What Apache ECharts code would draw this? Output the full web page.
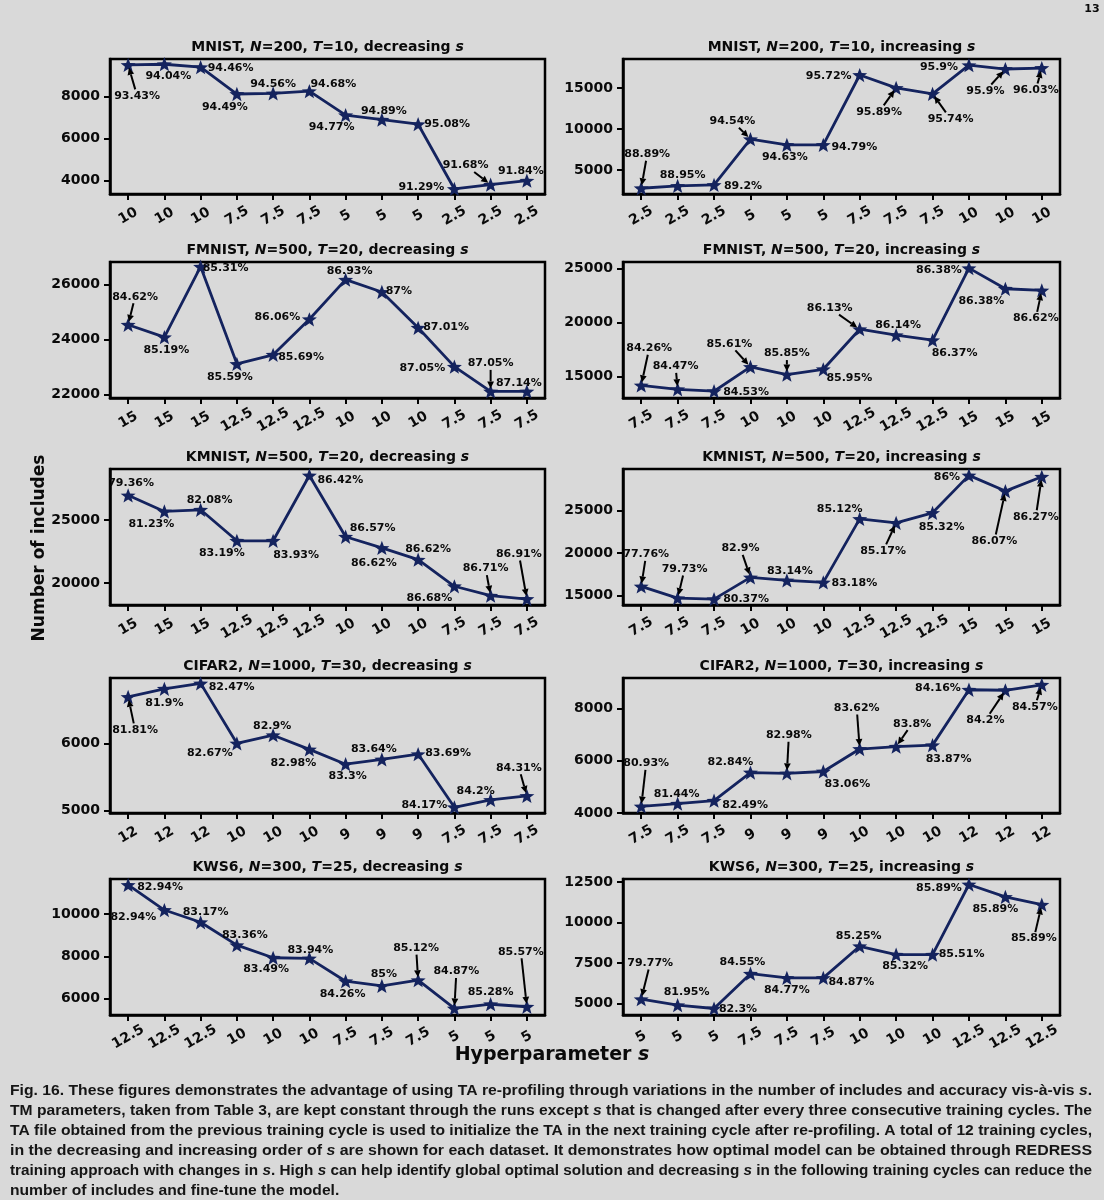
<!DOCTYPE html>
<html>
<head>
<meta charset="utf-8">
<script src="https://cdn.jsdelivr.net/npm/echarts@6/dist/echarts.min.js"></script>
<style>
html,body{margin:0;padding:0;background:#d9d9d9;}
#c{width:1104px;height:1200px;}
</style>
</head>
<body>
<div id="c"></div>
<script>
// ---------------- DATA ----------------
const sMnistDec = ['10','10','10','7.5','7.5','7.5','5','5','5','2.5','2.5','2.5'];
const sMnistInc = ['2.5','2.5','2.5','5','5','5','7.5','7.5','7.5','10','10','10'];
const sFmnistDec = ['15','15','15','12.5','12.5','12.5','10','10','10','7.5','7.5','7.5'];
const sFmnistInc = ['7.5','7.5','7.5','10','10','10','12.5','12.5','12.5','15','15','15'];
const sKmnistDec = ['15','15','15','12.5','12.5','12.5','10','10','10','7.5','7.5','7.5'];
const sKmnistInc = ['7.5','7.5','7.5','10','10','10','12.5','12.5','12.5','15','15','15'];
const sCifarDec = ['12','12','12','10','10','10','9','9','9','7.5','7.5','7.5'];
const sCifarInc = ['7.5','7.5','7.5','9','9','9','10','10','10','12','12','12'];
const sKwsDec = ['12.5','12.5','12.5','10','10','10','7.5','7.5','7.5','5','5','5'];
const sKwsInc = ['5','5','5','7.5','7.5','7.5','10','10','10','12.5','12.5','12.5'];

const incMnistDec = [9520, 9550, 9410, 8130, 8160, 8270, 7120, 6910, 6690, 3600, 3810, 4000];
const incMnistInc = [2780, 3070, 3190, 8750, 8070, 8070, 16570, 15000, 14280, 17780, 17300, 17420];
const incFmnistDec = [24540, 24090, 26650, 23120, 23450, 24740, 26180, 25730, 24430, 23020, 22120, 22120];
const incFmnistInc = [14160, 13790, 13610, 15870, 15160, 15650, 19380, 18820, 18360, 25060, 23140, 22990];
const incKmnistDec = [26940, 25670, 25800, 23350, 23350, 28510, 23670, 22790, 21860, 19760, 19020, 18750];
const incKmnistInc = [16100, 14730, 14610, 17160, 16800, 16570, 24020, 23550, 24730, 29120, 27280, 28960];
const incCifarDec = [6690, 6810, 6890, 6000, 6120, 5910, 5690, 5760, 5840, 5050, 5160, 5220];
const incCifarInc = [4250, 4360, 4470, 5550, 5520, 5590, 6450, 6540, 6600, 8720, 8700, 8910];
const incKwsDec = [11380, 10190, 9610, 8530, 7930, 7900, 6820, 6600, 6870, 5530, 5730, 5610];
const incKwsInc = [5270, 4900, 4690, 6840, 6580, 6580, 8530, 8010, 8010, 12340, 11580, 11100];

const accMnistDec = ['93.43%','94.04%','94.46%','94.49%','94.56%','94.68%','94.77%','94.89%','95.08%','91.29%','91.68%','91.84%'];
const accMnistInc = ['88.89%','88.95%','89.2%','94.54%','94.63%','94.79%','95.72%','95.89%','95.74%','95.9%','95.9%','96.03%'];
const accFmnistDec = ['84.62%','85.19%','85.31%','85.59%','85.69%','86.06%','86.93%','87%','87.01%','87.05%','87.05%','87.14%'];
const accFmnistInc = ['84.26%','84.47%','84.53%','85.61%','85.85%','85.95%','86.13%','86.14%','86.37%','86.38%','86.38%','86.62%'];
const accKmnistDec = ['79.36%','81.23%','82.08%','83.19%','83.93%','86.42%','86.57%','86.62%','86.62%','86.68%','86.71%','86.91%'];
const accKmnistInc = ['77.76%','79.73%','80.37%','82.9%','83.14%','83.18%','85.12%','85.17%','85.32%','86%','86.07%','86.27%'];
const accCifarDec = ['81.81%','81.9%','82.47%','82.67%','82.9%','82.98%','83.3%','83.64%','83.69%','84.17%','84.2%','84.31%'];
const accCifarInc = ['80.93%','81.44%','82.49%','82.84%','82.98%','83.06%','83.62%','83.8%','83.87%','84.16%','84.2%','84.57%'];
const accKwsDec = ['82.94%','82.94%','83.17%','83.36%','83.49%','83.94%','84.26%','85%','85.12%','84.87%','85.28%','85.57%'];
const accKwsInc = ['79.77%','81.95%','82.3%','84.55%','84.77%','84.87%','85.25%','85.32%','85.51%','85.89%','85.89%','85.89%'];

const ticksMnistDec = [4000, 6000, 8000];
const ticksMnistInc = [5000, 10000, 15000];
const ticksFmnistDec = [22000, 24000, 26000];
const ticksFmnistInc = [15000, 20000, 25000];
const ticksKmnistDec = [20000, 25000];
const ticksKmnistInc = [15000, 20000, 25000];
const ticksCifarDec = [5000, 6000];
const ticksCifarInc = [4000, 6000, 8000];
const ticksKwsDec = [6000, 8000, 10000];
const ticksKwsInc = [5000, 7500, 10000, 12500];

// ---------------- STYLE / LAYOUT ----------------
// annotation placement per point: [dx, dy, arrow]
const offMnistDec = [[9,31,1],[4,12,0],[30,1,0],[-12,13,0],[0,-9,0],[24,-7,0],[-14,12,0],[2,-8,0],[29,0,0],[-33,-2,0],[-25,-19,1],[-6,-9,0]];
const offMnistInc = [[6,-34,1],[5,-11,0],[29,1,0],[-18,-18,1],[-2,12,0],[31,2,0],[-31,1,0],[-17,24,1],[18,25,1],[-30,2,0],[-20,22,1],[-6,22,1]];
const offFmnistDec = [[7,-28,1],[2,13,0],[25,1,0],[-7,13,0],[28,2,0],[-32,-2,0],[4,-8,0],[17,-1,0],[28,-1,0],[-32,2,0],[0,-28,1],[-8,-8,0]];
const offFmnistInc = [[8,-37,1],[-2,-23,1],[32,1,0],[-21,-23,1],[0,-21,1],[26,9,0],[-30,-21,1],[2,-10,0],[22,13,0],[-30,2,0],[-24,12,0],[-6,28,1]];
const offKmnistDec = [[3,-12,0],[-13,13,0],[9,-10,0],[-15,12,0],[23,14,0],[31,5,0],[27,-9,0],[-8,15,0],[10,-11,0],[-25,12,0],[-5,-27,1],[-8,-45,1]];
const offKmnistInc = [[5,-32,1],[7,-29,1],[32,0,0],[-10,-29,1],[3,-9,0],[31,1,0],[-20,-10,0],[-13,28,1],[9,14,0],[-22,2,0],[-11,50,1],[-6,40,1]];
const offCifarDec = [[7,33,1],[0,14,0],[31,4,0],[-27,10,0],[-1,-9,0],[-16,14,0],[2,12,0],[-8,-10,0],[30,-1,0],[-30,-2,0],[-15,-9,0],[-8,-28,1]];
const offCifarInc = [[5,-43,1],[-1,-9,0],[31,4,0],[-20,-10,0],[2,-38,1],[24,13,0],[-3,-41,1],[16,-23,1],[16,14,0],[-31,-2,0],[-20,30,1],[-7,22,1]];
const offKwsDec = [[32,2,0],[-31,7,0],[5,-10,0],[8,-10,0],[-7,11,0],[1,-8,0],[-3,13,0],[2,-12,0],[-2,-32,1],[2,-37,1],[0,-12,0],[-6,-55,1]];
const offKwsInc = [[9,-36,1],[9,-13,0],[24,1,0],[-8,-12,0],[0,12,0],[28,4,0],[-1,-10,0],[9,11,0],[29,-1,0],[-30,4,0],[-10,12,0],[-8,34,1]];

const FONT = '"DejaVu Sans", sans-serif';
const NAVY = '#14235e';
const INK = '#0a0a0a';
const BG = '#d9d9d9';
const colLeft = [110, 623];
const colWidth = [435, 437];
const rowTop = [59, 262, 469, 678, 879];
const rowHeight = [135, 136, 136, 135, 136];

const panels = [
  {t:'MNIST, {i|N}=200, {i|T}=10, decreasing {i|s}', s:sMnistDec, v:incMnistDec, a:accMnistDec, o:offMnistDec, k:ticksMnistDec, r:[3360, 9800], row:0, col:0},
  {t:'MNIST, {i|N}=200, {i|T}=10, increasing {i|s}', s:sMnistInc, v:incMnistInc, a:accMnistInc, o:offMnistInc, k:ticksMnistInc, r:[2080, 18520], row:0, col:1},
  {t:'FMNIST, {i|N}=500, {i|T}=20, decreasing {i|s}', s:sFmnistDec, v:incFmnistDec, a:accFmnistDec, o:offFmnistDec, k:ticksFmnistDec, r:[21880, 26820], row:1, col:0},
  {t:'FMNIST, {i|N}=500, {i|T}=20, increasing {i|s}', s:sFmnistInc, v:incFmnistInc, a:accFmnistInc, o:offFmnistInc, k:ticksFmnistInc, r:[12980, 25630], row:1, col:1},
  {t:'KMNIST, {i|N}=500, {i|T}=20, decreasing {i|s}', s:sKmnistDec, v:incKmnistDec, a:accKmnistDec, o:offKmnistDec, k:ticksKmnistDec, r:[18280, 29020], row:2, col:0},
  {t:'KMNIST, {i|N}=500, {i|T}=20, increasing {i|s}', s:sKmnistInc, v:incKmnistInc, a:accKmnistInc, o:offKmnistInc, k:ticksKmnistInc, r:[13920, 29870], row:2, col:1},
  {t:'CIFAR2, {i|N}=1000, {i|T}=30, decreasing {i|s}', s:sCifarDec, v:incCifarDec, a:accCifarDec, o:offCifarDec, k:ticksCifarDec, r:[4965, 6970], row:3, col:0},
  {t:'CIFAR2, {i|N}=1000, {i|T}=30, increasing {i|s}', s:sCifarInc, v:incCifarInc, a:accCifarInc, o:offCifarInc, k:ticksCifarInc, r:[4000, 9170], row:3, col:1},
  {t:'KWS6, {i|N}=300, {i|T}=25, decreasing {i|s}', s:sKwsDec, v:incKwsDec, a:accKwsDec, o:offKwsDec, k:ticksKwsDec, r:[5220, 11660], row:4, col:0},
  {t:'KWS6, {i|N}=300, {i|T}=25, increasing {i|s}', s:sKwsInc, v:incKwsInc, a:accKwsInc, o:offKwsInc, k:ticksKwsInc, r:[4290, 12680], row:4, col:1}
];

const captionLines = [
  'Fig. 16. These figures demonstrates the advantage of using TA re-profiling through variations in the number of includes and accuracy vis-à-vis {i|s}.',
  'TM parameters, taken from Table 3, are kept constant through the runs except {i|s} that is changed after every three consecutive training cycles. The',
  'TA file obtained from the previous training cycle is used to initialize the TA in the next training cycle after re-profiling. A total of 12 training cycles,',
  'in the decreasing and increasing order of {i|s} are shown for each dataset. It demonstrates how optimal model can be obtained through REDRESS',
  'training approach with changes in {i|s}. High {i|s} can help identify global optimal solution and decreasing {i|s} in the following training cycles can reduce the',
  'number of includes and fine-tune the model.'
];

// ---------------- BUILD ----------------
function starPath(){
  let s = 'path://';
  for (let k = 0; k < 10; k++) {
    const a = -Math.PI/2 + k*Math.PI/5;
    const r = (k % 2) ? 0.42 : 1;
    s += (k ? 'L' : 'M') + (r*Math.cos(a)*10).toFixed(2) + ',' + (r*Math.sin(a)*10).toFixed(2) + ' ';
  }
  return s + 'Z';
}
const STAR = starPath();

const cv = document.createElement('canvas').getContext('2d');
function textW(t, font){ cv.font = font; return cv.measureText(t).width; }
const LBL_FONT = 'bold 11px ' + FONT;

const grids = [], xAxes = [], yAxes = [], series = [], graphics = [];

panels.forEach((p, gi) => {
  const left = colLeft[p.col], top = rowTop[p.row], w = colWidth[p.col], h = rowHeight[p.row];
  grids.push({left, top, width: w, height: h, show: true, borderColor: '#000', borderWidth: 2.5, backgroundColor: 'transparent', containLabel: false});
  xAxes.push({
    type: 'category', gridIndex: gi, data: p.s, boundaryGap: true,
    axisLine: {show: true, lineStyle: {color: '#000', width: 2.5}},
    axisTick: {show: true, alignWithLabel: true, length: 6, lineStyle: {color: '#000', width: 2}},
    axisLabel: {interval: 0, rotate: 30, align: 'center', verticalAlign: 'middle', margin: 22,
      fontFamily: FONT, fontWeight: 'bold', fontSize: 14, color: INK},
    splitLine: {show: false}
  });
  yAxes.push({
    type: 'value', gridIndex: gi, min: p.r[0], max: p.r[1],
    axisLine: {show: true, lineStyle: {color: '#000', width: 2.5}},
    axisTick: {show: true, length: 6, lineStyle: {color: '#000', width: 2}, customValues: p.k},
    axisLabel: {customValues: p.k, margin: 10, formatter: v => String(v),
      fontFamily: FONT, fontWeight: 'bold', fontSize: 14, color: INK},
    splitLine: {show: false}
  });
  series.push({
    type: 'line', xAxisIndex: gi, yAxisIndex: gi, data: p.v,
    symbol: STAR, symbolSize: 15, symbolKeepAspect: true,
    lineStyle: {color: NAVY, width: 2.8}, itemStyle: {color: NAVY},
    animation: false, z: 3, silent: true
  });
  series.push({
    type: 'custom', xAxisIndex: gi, yAxisIndex: gi, z: 5, silent: true, animation: false, clip: false,
    data: p.v.map((v, i) => [i, v]),
    renderItem: (params, api) => {
      const i = params.dataIndex;
      const pt = api.coord([api.value(0), api.value(1)]);
      const [dx, dy, ar] = p.o[i];
      const lx = pt[0] + dx, ly = pt[1] + dy;
      const children = [{
        type: 'text',
        style: {text: p.a[i], x: lx, y: ly, align: 'center', verticalAlign: 'middle',
          fontFamily: FONT, fontWeight: 'bold', fontSize: 11, fill: INK}
      }];
      if (ar) {
        const hw = textW(p.a[i], LBL_FONT)/2 + 1, hh = 6.5;
        const vx = pt[0] - lx, vy = pt[1] - ly;
        const len = Math.hypot(vx, vy);
        const ux = vx/len, uy = vy/len;
        const t = Math.min(vx ? hw/Math.abs(vx) : 1e9, vy ? hh/Math.abs(vy) : 1e9);
        const sx = lx + vx*t, sy = ly + vy*t;
        const ex = pt[0] - ux*3, ey = pt[1] - uy*3;
        const hl = 7, hwid = 3.4;
        const bx = ex - ux*hl, by = ey - uy*hl;
        children.push({type: 'line', shape: {x1: sx, y1: sy, x2: bx, y2: by}, style: {stroke: '#000', lineWidth: 2}});
        children.push({type: 'polygon', shape: {points: [[ex, ey], [bx - uy*hwid, by + ux*hwid], [bx + uy*hwid, by - ux*hwid]]}, style: {fill: '#000'}});
      }
      return {type: 'group', children};
    }
  });
  graphics.push({
    type: 'text', x: left + w/2, y: top - 12, silent: true,
    style: {text: p.t, x: 0, y: 0, align: 'center', verticalAlign: 'middle',
      fontFamily: FONT, fontWeight: 'bold', fontSize: 14, fill: INK,
      rich: {i: {fontFamily: FONT, fontWeight: 'bold', fontStyle: 'italic', fontSize: 14, fill: INK}}}
  });
});

// figure-level labels
graphics.push({type: 'text', x: 1092, y: 9, silent: true,
  style: {text: '13', x: 0, y: 0, align: 'center', verticalAlign: 'middle', fontFamily: FONT, fontWeight: 'bold', fontSize: 11, fill: INK}});
graphics.push({type: 'text', x: 40, y: 548, rotation: Math.PI/2, silent: true,
  style: {text: 'Number of includes', x: 0, y: 0, align: 'center', verticalAlign: 'middle', fontFamily: FONT, fontWeight: 'bold', fontSize: 17, fill: INK}});
graphics.push({type: 'text', x: 552, y: 1055, silent: true,
  style: {text: 'Hyperparameter {i|s}', x: 0, y: 0, align: 'center', verticalAlign: 'middle', fontFamily: FONT, fontWeight: 'bold', fontSize: 19, fill: INK,
    rich: {i: {fontFamily: FONT, fontWeight: 'bold', fontStyle: 'italic', fontSize: 19, fill: INK}}}});

// caption
const CAP_FAM = '"Liberation Sans", Arial, sans-serif';
const CAP_SIZE = 15;
const CAP_FONT = 'bold ' + CAP_SIZE + 'px ' + CAP_FAM;
const capScales = captionLines.map(l => 1082 / textW(l.replace(/\{i\|([^}]*)\}/g, '$1'), CAP_FONT));
const avgScale = capScales.slice(0, 5).reduce((a, b) => a + b, 0) / 5;
captionLines.forEach((l, i) => {
  graphics.push({type: 'text', x: 10, y: 1091 + i*20, scaleX: i < 5 ? capScales[i] : avgScale, silent: true,
    style: {text: l, x: 0, y: 0, align: 'left', verticalAlign: 'middle', fontFamily: CAP_FAM, fontWeight: 'bold', fontSize: CAP_SIZE, fill: '#151515',
      rich: {i: {fontFamily: CAP_FAM, fontWeight: 'bold', fontStyle: 'italic', fontSize: CAP_SIZE, fill: '#151515'}}}});
});

const chart = echarts.init(document.getElementById('c'), null, {renderer: 'canvas', width: 1104, height: 1200});
chart.setOption({
  backgroundColor: BG,
  animation: false,
  grid: grids, xAxis: xAxes, yAxis: yAxes, series: series,
  graphic: {elements: graphics}
});
</script>
</body>
</html>
